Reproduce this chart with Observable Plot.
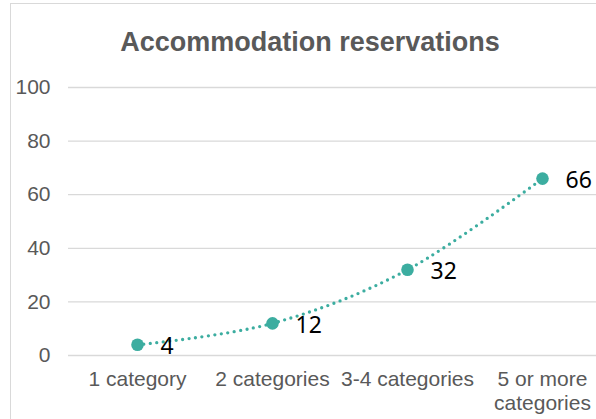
<!DOCTYPE html>
<html>
<head>
<meta charset="utf-8">
<script src="https://cdn.jsdelivr.net/npm/d3@7"></script>
<script src="https://cdn.jsdelivr.net/npm/@observablehq/plot@0.6"></script>
<style>
  html, body { margin: 0; padding: 0; background: #fff; }
  #wrap { position: relative; width: 596px; height: 419px; overflow: hidden; background: #fff; }
  #border { position: absolute; left: 10px; top: 3px; width: 700px; height: 600px; border: 1.5px solid #d9d9d9; box-sizing: border-box; }
  #title { position: absolute; left: 0; width: 620px; top: 33px; text-align: center;
           font: bold 27px "Liberation Sans", Arial, sans-serif; color: #595959; line-height: 19px; }
  #chart { position: absolute; left: 0; top: 0; }
</style>
</head>
<body>
<div id="wrap">
  <div id="border"></div>
  <div id="chart"></div>
  <div id="title">Accommodation reservations</div>
</div>
<script>
const categories = ["1 category", "2 categories", "3-4 categories", "5 or more categories"];
const tickLabels = ["1 category", "2 categories", "3-4 categories", "5 or more\ncategories"];
const values = [4, 12, 32, 66];
const yTicks = [0, 20, 40, 60, 80, 100];

const data = categories.map((c, i) => ({category: c, value: values[i]}));
const color = "#3CADA0";

const chart = Plot.plot({
  width: 596,
  height: 419,
  marginLeft: 68,
  marginRight: 0,
  marginTop: 87,
  marginBottom: 64,
  style: {background: "transparent", overflow: "visible"},
  x: {type: "point", domain: categories, range: [68, 610], padding: 0.5},
  y: {domain: [0, 100]},
  marks: [
    Plot.ruleY(yTicks, {stroke: "#d9d9d9", strokeWidth: 1.3, strokeOpacity: 1}),
    Plot.axisY({
      ticks: yTicks, tickSize: 0, tickPadding: 18,
      fontSize: 21, fill: "#595959", fontFamily: "Liberation Sans, Arial, sans-serif",
      label: null
    }),
    Plot.axisX({
      tickSize: 0, tickPadding: 14,
      tickFormat: (d) => tickLabels[categories.indexOf(d)],
      fontSize: 21, fill: "#595959", fontFamily: "Liberation Sans, Arial, sans-serif",
      lineHeight: 1.12, label: null
    }),
    Plot.line(data, {
      x: "category", y: "value", curve: "cardinal",
      stroke: color, strokeWidth: 3.3, strokeDasharray: "0 6.5", strokeLinecap: "round"
    }),
    Plot.dot(data, {x: "category", y: "value", r: 6.3, fill: color, stroke: "none"}),
    Plot.text(data, {
      x: "category", y: "value", text: (d) => String(d.value),
      textAnchor: "start", dx: 23, dy: 2, lineAnchor: "middle",
      fontSize: 23, fill: "#000", fontFamily: "Noto Sans, Open Sans, sans-serif"
    })
  ]
});
document.getElementById("chart").appendChild(chart);
</script>
</body>
</html>
